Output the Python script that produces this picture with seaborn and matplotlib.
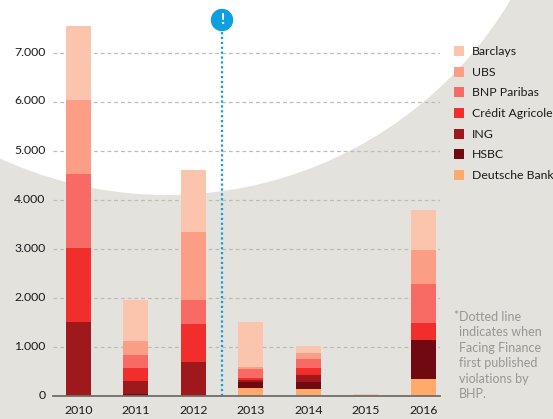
import matplotlib
matplotlib.use('Agg')
import matplotlib.pyplot as plt
from matplotlib.patches import Circle, Rectangle
from matplotlib.transforms import ScaledTranslation
import pandas as pd
import seaborn as sns

years = ['2010', '2011', '2012', '2013', '2014', '2015', '2016']

deutsche = [0, 0, 0, 163, 143, 0, 347]
hsbc = [0, 40, 0, 123, 143, 0, 795]
ing = [1510, 266, 694, 40, 142, 0, 0]
credit_agricole = [1510, 265, 775, 41, 143, 0, 347]
bnp = [1510, 265, 489, 184, 184, 0, 796]
ubs = [1510, 286, 1388, 41, 122, 0, 693]
barclays = [1510, 836, 1266, 918, 143, 40, 818]

banks = ['Deutsche Bank', 'HSBC', 'ING', 'Crédit Agricole', 'BNP Paribas', 'UBS', 'Barclays']
colours = ['#FFA96B', '#710A10', '#9E181C', '#F22E2C', '#F86A64', '#FC9E85', '#FBC5AD']
y_ticks = [0, 1000, 2000, 3000, 4000, 5000, 6000, 7000]
y_labels = ['0', '1.000', '2.000', '3.000', '4.000', '5.000', '6.000', '7.000']
note_lines = ['Dotted line', 'indicates when', 'Facing Finance', 'first published', 'violations by', 'BHP.']

sns.set_theme(style='white')
plt.rcParams['font.family'] = ['Lato', 'DejaVu Sans']

W, H = 553, 419
bg = '#E3E2DD'
dark = '#1A1A1A'
grey_text = '#979692'
fig = plt.figure(figsize=(W / 100, H / 100), dpi=100, facecolor=bg)

# big white circle behind the chart, in pixel coordinates
deco = fig.add_axes([0, 0, 1, 1], zorder=0)
deco.set_xlim(0, W)
deco.set_ylim(H, 0)
deco.axis('off')
deco.add_patch(Circle((167, -205), 400, facecolor='white', edgecolor='none'))

ax = fig.add_axes([53 / W, (H - 396) / H, 387 / W, 396 / H], zorder=1)
ax.patch.set_alpha(0)

df = pd.DataFrame({'year': years, 'Deutsche Bank': deutsche, 'HSBC': hsbc, 'ING': ing,
                   'Crédit Agricole': credit_agricole, 'BNP Paribas': bnp,
                   'UBS': ubs, 'Barclays': barclays})

bottom = [0] * len(years)
for bank, colour in zip(banks, colours):
    sns.barplot(data=df, x='year', y=bank, color=colour, saturation=1, width=0.435,
                bottom=bottom, ax=ax, zorder=3, linewidth=0, legend=False)
    bottom = [b + v for b, v in zip(bottom, df[bank])]

ax.set_xlim(-0.443, 6.287)
ax.set_ylim(0, 396 / 49 * 1000)
ax.set_xlabel('')
ax.set_ylabel('')
ax.set_yticks(y_ticks)
ax.set_yticklabels(y_labels)
ax.tick_params(axis='both', length=0, labelsize=8.8, labelcolor=dark)
ax.tick_params(axis='y', pad=5.5)
ax.tick_params(axis='x', pad=6.5)
# y labels sit a little above their gridlines
up = ScaledTranslation(0, 2 / 100, fig.dpi_scale_trans)
for lab in ax.get_yticklabels():
    lab.set_transform(lab.get_transform() + up)
for s in ['top', 'right', 'left']:
    ax.spines[s].set_visible(False)
ax.spines['bottom'].set_color('#6F6E6A')
ax.spines['bottom'].set_linewidth(1.3)
ax.spines['bottom'].set_zorder(5)

for t in y_ticks[1:]:
    ax.axhline(t, color='#BDBCB8', lw=0.9, ls=(0, (3, 2.4)), zorder=1)

# dotted line and badge
ax.axvline(2.5, ymax=(396 - 31) / 396, color='#0E9FE0', lw=1.6, ls=(0, (1, 1.2)), zorder=4)
top = fig.add_axes([0, 0, 1, 1], zorder=2)
top.set_xlim(0, W)
top.set_ylim(H, 0)
top.axis('off')
top.add_patch(Circle((222, 20), 11.2, facecolor='#0E9FE0', edgecolor='none'))
top.text(222, 20, '!', color='white', fontsize=10.5, fontweight='black', ha='center', va='center')

# legend, top-down from Barclays
for i, (bank, colour) in enumerate(zip(banks[::-1], colours[::-1])):
    y = 51 + i * 20.67
    top.add_patch(Rectangle((454, y - 5), 10, 10, facecolor=colour, edgecolor='none'))
    top.text(472, y + 0.6, bank, fontsize=8.8, color=dark, va='center', ha='left')

top.text(453.5, 316, '*', fontsize=9, color=grey_text, va='center', ha='left')
for i, line in enumerate(note_lines):
    top.text(459, 317 + i * 15.4, line, fontsize=9, color=grey_text, va='center', ha='left')

fig.savefig('out.png', dpi=100, facecolor=bg)
